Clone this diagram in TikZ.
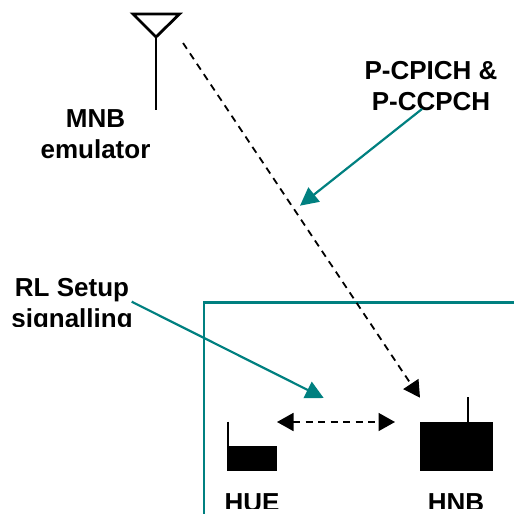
\documentclass[tikz,border=0pt]{standalone}
\usepackage{fontspec}
\setmainfont{Liberation Sans}
\usetikzlibrary{arrows.meta}
\definecolor{tealline}{RGB}{0,128,128}
\tikzset{
  lbl/.style={font=\fontsize{26}{31}\selectfont\bfseries, inner sep=0pt, align=center, anchor=base},
  ant/.style={draw=black, line width=2.8pt, line join=miter},
  device/.style={fill=black, draw=none, inner sep=0pt, anchor=north west},
  stub/.style={draw=black, line width=1.8pt},
  blackhead/.tip={Triangle[length=16.5pt,width=18pt]},
  tealhead/.tip={Triangle[length=18pt,width=18pt]},
  sig/.style={draw=black, line width=1.8pt, dash pattern=on 7pt off 5.5pt},
  tealarrow/.style={draw=tealline, line width=2.2pt, -{tealhead[fill=tealline]}},
  framel/.style={draw=tealline, line width=2.6pt}
}
\begin{document}
\begin{tikzpicture}[x=1pt,y=-1pt]
\useasboundingbox (0,0) rectangle (514,514);
\fill[white] (0,0) rectangle (514,514);
% frame
\coordinate (fbl) at (204,514);
\coordinate (ftl) at (204,302.3);
\coordinate (ftr) at (514,302.3);
\draw[framel] (fbl) -- (ftl) -- (ftr);
% antenna
\coordinate (al) at (133,14);
\coordinate (ar) at (179.5,14);
\coordinate (ab) at (156,37);
\coordinate (am) at (156,110);
\draw[ant] (al) -- (ar) -- (ab) -- cycle;
\draw[ant] (ab) -- (am);
% labels
\node[lbl] (mnb) at (95.5,158.7) {MNB\\emulator};
\node[lbl] (pch) at (431,110.7) {P-CPICH \&\\P-CCPCH};
\begin{scope}
\clip (0,260) rectangle (514,326.5);
\node[lbl] (rl) at (72,327) {RL Setup\\signalling};
\end{scope}
\begin{scope}
\clip (0,480) rectangle (514,508);
\node[lbl] (hue) at (252,511.6) {HUE};
\node[lbl] (hnb) at (456,511.6) {HNB};
\end{scope}
% devices
\node[device, minimum width=50pt, minimum height=25.3pt] (uebox) at (227,445.7) {};
\node[device, minimum width=73.7pt, minimum height=49.3pt] (nbbox) at (419.3,421.7) {};
\coordinate (uetop) at (228,421.7);
\coordinate (uefoot) at (228,446);
\coordinate (nbtop) at (468.3,397.3);
\coordinate (nbfoot) at (468.3,422);
\draw[stub] (uetop) -- (uefoot);
\draw[stub] (nbtop) -- (nbfoot);
% signals
\coordinate (s1) at (183,43);
\coordinate (s2) at (420,397.7);
\draw[sig, -{blackhead[fill=black]}] (s1) -- (s2);
\coordinate (d1) at (277,422);
\coordinate (d2) at (395,422);
\draw[sig, {blackhead[fill=black]}-{blackhead[fill=black]}] (d1) -- (d2);
% callouts
\coordinate (c1) at (422,109);
\coordinate (c2) at (300,205.7);
\draw[tealarrow] (c1) -- (c2);
\coordinate (c3) at (131.7,301.7);
\coordinate (c4) at (323.7,398);
\draw[tealarrow] (c3) -- (c4);
\end{tikzpicture}
\end{document}
